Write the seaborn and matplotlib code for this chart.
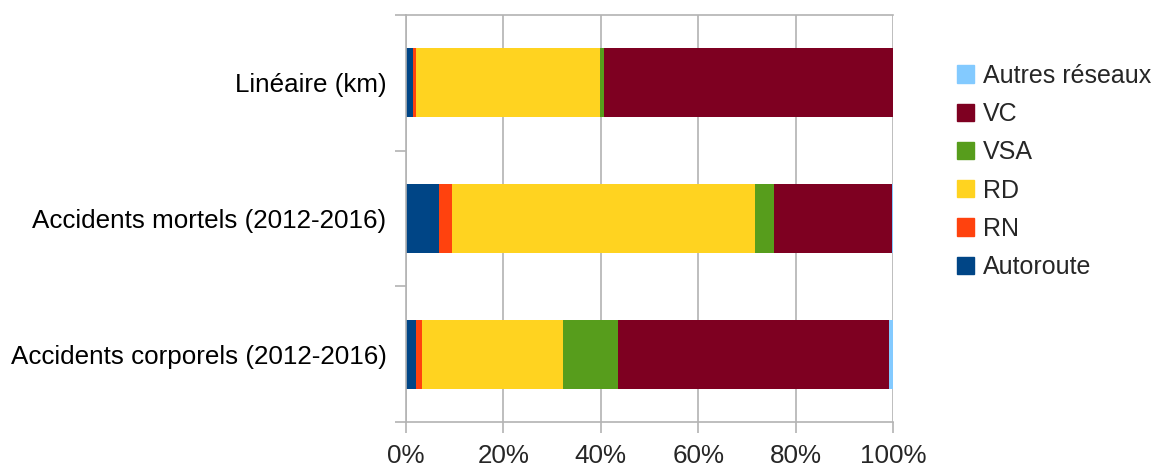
import seaborn as sns
import matplotlib.pyplot as plt
import pandas as pd
import numpy as np
from matplotlib.patches import Patch
from matplotlib.ticker import FixedLocator, PercentFormatter

categories = ['Linéaire (km)', 'Accidents mortels (2012-2016)', 'Accidents corporels (2012-2016)']
series = ['Autoroute', 'RN', 'RD', 'VSA', 'VC', 'Autres réseaux']
autoroute = [1.4, 6.8, 2.1]
rn = [0.6, 2.7, 1.2]
rd = [37.8, 62.2, 29.0]
vsa = [0.8, 3.9, 11.3]
vc = [59.4, 24.1, 55.6]
autres = [0.0, 0.3, 0.8]
colors = ['#004586', '#ff420e', '#ffd320', '#579d1c', '#7e0021', '#83caff']

sns.set_theme(style='white')
plt.rcParams['font.family'] = ['Liberation Sans', 'DejaVu Sans']
fs = 18.7

values = np.array([autoroute, rn, rd, vsa, vc, autres])
cum = np.cumsum(values, axis=0)

fig = plt.figure(figsize=(11.62, 4.68), dpi=100)
ax = fig.add_axes([0.3494, 0.0983, 0.4191, 0.8697])

# stacked bars: draw cumulative totals from the outermost series inwards
for i in reversed(range(len(series))):
    df = pd.DataFrame({'cat': categories, 'val': cum[i]})
    sns.barplot(data=df, x='val', y='cat', orient='h', color=colors[i],
                width=0.51, linewidth=0, saturation=1, ax=ax, order=categories)

ax.set_xlim(0, 100)
ax.set_ylim(2.5, -0.5)
ax.set_xlabel('')
ax.set_ylabel('')
ax.xaxis.set_major_locator(FixedLocator([0, 20, 40, 60, 80, 100]))
ax.xaxis.set_major_formatter(PercentFormatter(decimals=0))
ax.grid(axis='x', color='#b3b3b3', linewidth=1.2)
ax.set_axisbelow(True)
ax.set_yticks([0, 1, 2])
ax.set_yticklabels(categories)
ax.set_yticks([-0.5, 0.5, 1.5, 2.5], minor=True)
ax.tick_params(axis='y', which='major', length=0, pad=14, labelsize=fs, colors='black')
ax.tick_params(axis='y', which='minor', length=8, width=1.2, color='#b3b3b3', left=True)
ax.tick_params(axis='x', length=8, width=1.2, color='#b3b3b3', bottom=True,
               labelsize=fs, pad=8)
for s in ['top', 'bottom', 'left']:
    ax.spines[s].set_color('#b3b3b3')
    ax.spines[s].set_linewidth(1.2)
ax.spines['right'].set_visible(False)

handles = [Patch(color=colors[i], label=series[i]) for i in reversed(range(len(series)))]
fig.legend(handles=handles, loc='upper left', bbox_to_anchor=(0.815, 0.885),
           frameon=False, fontsize=18, handlelength=0.68, handleheight=0.68,
           handletextpad=0.35, labelspacing=0.57, borderaxespad=0)

fig.savefig('out.png', dpi=100)
